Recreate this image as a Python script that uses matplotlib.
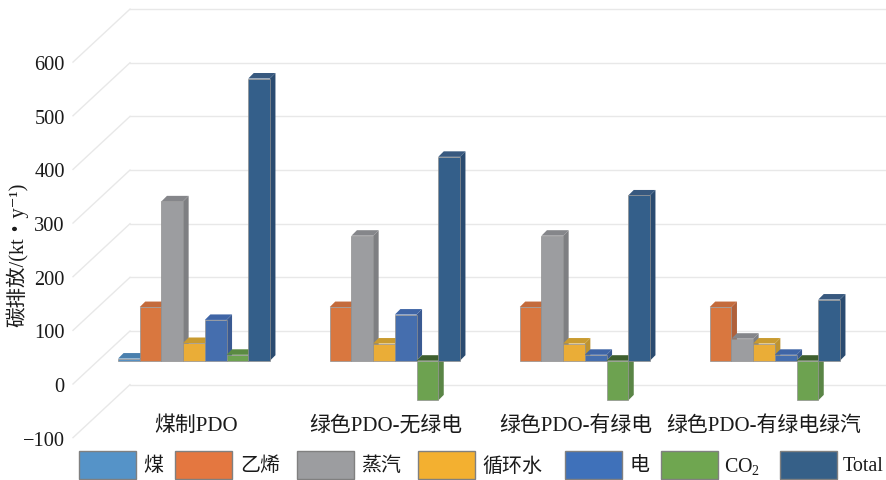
import numpy as np
import matplotlib
matplotlib.use("Agg")
import matplotlib.pyplot as plt
from matplotlib.patches import Polygon, Rectangle

plt.rcParams["font.family"] = ["Liberation Serif", "Noto Sans CJK SC", "DejaVu Sans"]
plt.rcParams["mathtext.fontset"] = "custom"
plt.rcParams["mathtext.rm"] = "Liberation Serif"
plt.rcParams["mathtext.default"] = "rm"

categories = ["煤制PDO", "绿色PDO-无绿电", "绿色PDO-有绿电", "绿色PDO-有绿电绿汽"]
series_names = ["煤", "乙烯", "蒸汽", "循环水", "电", "CO$_2$", "Total"]
coal = [4, 0, 0, 0]
ethylene = [100, 100, 100, 100]
steam = [297, 233, 233, 41]
water = [33, 32, 32, 32]
power = [76, 86, 11, 11]
co2 = [11, -74, -74, -74]
total = [526, 380, 308, 114]
series_values = np.array([coal, ethylene, steam, water, power, co2, total])
value_ticks = [-100, 0, 100, 200, 300, 400, 500, 600]

# front, side, top colours of each column, then the legend swatch
front_colors = ["#5590C4", "#D9773F", "#9C9DA0", "#EAAD37", "#456EAE", "#6DA250", "#345F8A"]
side_colors = ["#44749E", "#B0603A", "#7E7F82", "#BD932F", "#3A5A92", "#5A8546", "#2A4B70"]
top_colors = ["#4A80AE", "#C46B3C", "#85868A", "#C99B30", "#3F65A6", "#5A8A42", "#38597F"]
neg_top_color = "#3E5F2E"
legend_colors = ["#5593C8", "#E47740", "#9C9DA0", "#F3B030", "#3F71BA", "#6FA650", "#366088"]

W, H = 887, 481
PX_PER_UNIT = 0.5365
BASE_Y = 361.7
BAR_W = 21.7
GROUP_X = np.array([194, 384, 574, 764])
DEPTH_X = 5.5
DEPTH_Y = 5.5 / PX_PER_UNIT
BACK_SHIFT = 29.7 / PX_PER_UNIT
FRONT_SHIFT = -23.3 / PX_PER_UNIT
WALL_LEFT = 130
WALL_FRONT = 73
TEXT_COLOR = "#1A1A1A"


def from_top(py):
    # pixel row counted from the top edge, as a value on the y scale
    return (BASE_Y - py) / PX_PER_UNIT


fig = plt.figure(figsize=(W / 100, H / 100), dpi=100)
ax = fig.add_axes([0, 0, 1, 1])
ax.set_xlim(0, W)
ax.set_ylim(from_top(H), from_top(0))
ax.axis("off")

# back wall and side wall gridlines
for v in value_ticks:
    ax.plot([WALL_LEFT, W], [v + BACK_SHIFT] * 2, color="#E8E8E8", lw=1, zorder=1)
    ax.plot([WALL_FRONT, WALL_LEFT], [v + FRONT_SHIFT, v + BACK_SHIFT], color="#E8E8E8", lw=1, zorder=1)

# columns, painted left to right so later ones cover earlier side faces
zorder = 2
for g, gx in enumerate(GROUP_X):
    for s in range(len(series_names)):
        v = series_values[s, g]
        if v == 0:
            continue
        x0 = gx + (s - 3.5) * BAR_W
        x1 = x0 + BAR_W
        top_y = max(v, 0)
        side = [(x1, 0), (x1 + DEPTH_X, DEPTH_Y), (x1 + DEPTH_X, v + DEPTH_Y), (x1, v)]
        top = [(x0, top_y), (x1, top_y), (x1 + DEPTH_X, top_y + DEPTH_Y), (x0 + DEPTH_X, top_y + DEPTH_Y)]
        ax.add_patch(Polygon(side, fc=side_colors[s], ec="none", zorder=zorder))
        ax.add_patch(Polygon(top, fc=neg_top_color if v < 0 else top_colors[s], ec="none", zorder=zorder))
        ax.bar(x0, v, BAR_W, align="edge", color=front_colors[s], edgecolor="#909090", lw=0.5, zorder=zorder)
        zorder += 1

# value labels sit on the front edge of the side wall
sec = ax.secondary_yaxis(WALL_FRONT / W, functions=(lambda y: y - FRONT_SHIFT, lambda y: y + FRONT_SHIFT))
sec.set_yticks(value_ticks)
sec.set_yticklabels([str(v).replace("-", "\u2212") for v in value_ticks], fontsize=14.7, color=TEXT_COLOR)
sec.tick_params(length=0, pad=6)
sec.spines["left"].set_visible(False)

label_x = [196, 386, 575.5, 764]
for x, name in zip(label_x, categories):
    ax.text(x, from_top(426), name, ha="center", va="center", fontsize=15, color=TEXT_COLOR)

ax.text(17, from_top(255), "碳排放/(kt・y\u207b\u00b9)", rotation=90,
        ha="center", va="center", fontsize=14.8, color=TEXT_COLOR)

# legend row along the bottom edge
swatch_left = [79, 175, 297, 418, 565, 661, 780]
text_left = [143, 240, 361, 482, 630, 724, 843]
for s, name in enumerate(series_names):
    ax.add_patch(Rectangle((swatch_left[s], from_top(480)), 57, 28 / PX_PER_UNIT,
                           fc=legend_colors[s], ec="#808080", lw=1, zorder=zorder))
    ax.text(text_left[s], from_top(467), name, ha="left", va="center", fontsize=14.4, color=TEXT_COLOR)

fig.savefig("out.png", dpi=100)
